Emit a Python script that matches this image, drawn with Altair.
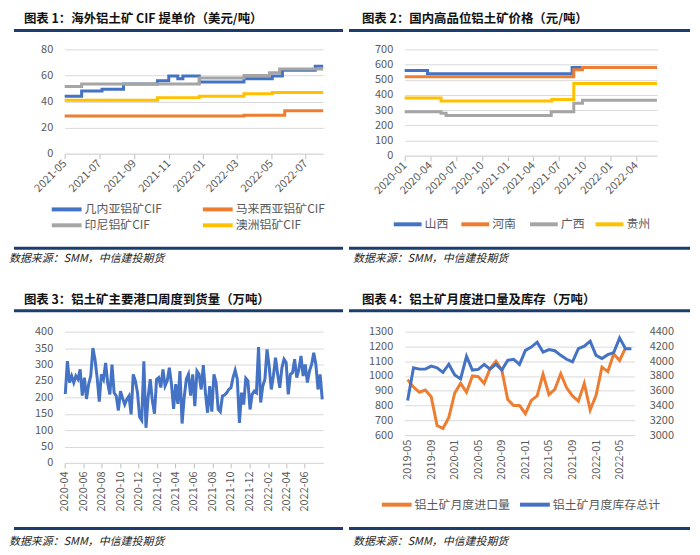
import altair as alt
import pandas as pd

FONT = "Noto Sans CJK SC"
NAVY = "#1C3D6E"
GRID = "#D9D9D9"
LABEL = "#595959"
BLUE, ORANGE, GRAY, YELLOW = "#4472C4", "#ED7D31", "#A5A5A5", "#FFC000"

TITLES = [
    "图表 1：海外铝土矿 CIF 提单价（美元/吨）",
    "图表 2：国内高品位铝土矿价格（元/吨）",
    "图表 3：铝土矿主要港口周度到货量（万吨）",
    "图表 4：铝土矿月度进口量及库存（万吨）",
]
SOURCE = "数据来源：SMM，中信建投期货"

# ---------------- Panel 1: overseas bauxite CIF (USD/t), step series
p1_names = ["几内亚铝矿CIF", "马来西亚铝矿CIF", "印尼铝矿CIF", "澳洲铝矿CIF"]
p1_colors = [BLUE, ORANGE, GRAY, YELLOW]
guinea_dates = ["2021-05-01", "2021-05-31", "2021-07-06", "2021-08-13", "2021-10-12", "2021-11-01",
                "2021-11-17", "2021-11-26", "2021-12-25", "2022-03-14", "2022-05-03", "2022-05-21",
                "2022-07-18", "2022-08-01"]
guinea_vals = [44, 48, 49.5, 53.5, 56, 59.5, 57.5, 59.5, 55, 57.5, 59.5, 64, 67, 67]
malaysia_dates = ["2021-05-01", "2022-03-14", "2022-05-25", "2022-08-01"]
malaysia_vals = [29, 29.5, 33, 33]
indonesia_dates = ["2021-05-01", "2021-05-31", "2021-12-25", "2022-03-14", "2022-04-28", "2022-05-16", "2022-08-01"]
indonesia_vals = [51.5, 53.5, 58, 60, 62, 65, 65]
australia_dates = ["2021-05-01", "2021-10-12", "2021-12-25", "2022-03-14", "2022-05-03", "2022-08-01"]
australia_vals = [41, 43, 44, 46, 47, 47]
p1_ticks = ["2021-05-01", "2021-07-01", "2021-09-01", "2021-11-01", "2022-01-01", "2022-03-01",
            "2022-05-01", "2022-07-01"]

# ---------------- Panel 2: domestic bauxite prices (CNY/t)
p2_names = ["山西", "河南", "广西", "贵州"]
p2_colors = [BLUE, ORANGE, GRAY, YELLOW]
shanxi_dates = ["2020-01-01", "2020-03-22", "2021-08-17", "2022-06-14"]
shanxi_vals = [560, 540, 580, 580]
henan_dates = ["2020-01-01", "2021-08-23", "2021-09-23", "2022-06-14"]
henan_vals = [520, 565, 580, 580]
guangxi_dates = ["2020-01-01", "2020-05-09", "2020-05-27", "2021-06-04", "2021-08-23", "2021-09-23", "2022-06-14"]
guangxi_vals = [290, 280, 265, 290, 345, 365, 365]
guizhou_dates = ["2020-01-01", "2020-05-09", "2021-06-06", "2021-08-23", "2022-06-14"]
guizhou_vals = [380, 360, 370, 475, 475]
p2_ticks = ["2020-01-01", "2020-04-01", "2020-07-01", "2020-10-01", "2021-01-01", "2021-04-01",
            "2021-07-01", "2021-10-01", "2022-01-01", "2022-04-01"]

# ---------------- Panel 3: weekly port arrivals (10kt), weekly from 2020-04-03
p3_start = "2020-04-03"
p3_vals = [210, 310, 245, 265, 245, 265, 255, 285, 205, 260, 195, 240, 265,
           350, 315, 260, 187, 270, 255, 305, 242, 209, 300, 214, 204, 160,
           219, 197, 178, 194, 204, 148, 270, 250, 215, 140, 130, 310, 107,
           200, 255, 190, 150, 255, 260, 230, 285, 235, 250, 290, 240, 165,
           240, 180, 280, 120, 200, 255, 270, 205,
           270, 173, 280, 270, 224, 298, 214, 153, 234, 156, 270, 245, 163,
           156, 204, 207, 214, 224, 229, 260, 282, 255, 122, 214, 178, 258,
           250, 163, 209, 219, 214, 353, 184, 234, 255, 346, 295, 224, 265,
           321, 270, 229, 290, 316, 306, 209, 270, 275, 316, 260, 285, 326,
           265, 300, 245, 280, 300, 336, 300, 224, 270, 194]
p3_ticks = ["2020-04-01", "2020-06-01", "2020-08-01", "2020-10-01", "2020-12-01", "2021-02-01",
            "2021-04-01", "2021-06-01", "2021-08-01", "2021-10-01", "2021-12-01", "2022-02-01",
            "2022-04-01", "2022-06-01"]

# ---------------- Panel 4: monthly imports (left) and inventory (right)
p4_names = ["铝土矿月度进口量", "铝土矿月度库存总计"]
p4_colors = [ORANGE, BLUE]
p4_months = [f"{y}-{m:02d}" for y in (2019, 2020, 2021, 2022) for m in range(1, 13)]
p4_months = p4_months[p4_months.index("2019-05"):p4_months.index("2022-07") + 1]
imports_vals = [975, 925, 890, 905, 860, 665, 645, 720, 885, 950, 890, 1000, 995, 950, 1050, 1100,
                1040, 840, 800, 800, 745, 835, 865, 1012, 875, 910, 1015, 920, 865, 830, 950, 770,
                870, 1060, 1030, 1150, 1105, 1190]
stock_vals = [3467, 3911, 3893, 3893, 3933, 3911, 3849, 3960, 3813, 3760, 4067, 3880, 3889, 3956,
              3893, 3960, 3880, 4013, 4027, 3956, 4147, 4191, 4258, 4124, 4158, 4142, 4080, 4027,
              3991, 4169, 4204, 4271, 4080, 4036, 4089, 4116, 4316, 4169, 4169]
p4_ticks = ["2019-05", "2019-09", "2020-01", "2020-05", "2020-09", "2021-01", "2021-05", "2021-09",
            "2022-01", "2022-05"]


def long_df(names, date_lists, val_lists):
    rows = []
    for n, ds, vs in zip(names, date_lists, val_lists):
        for d, v in zip(ds, vs):
            rows.append({"date": d + "T00:00:00", "value": v, "series": n})
    return pd.DataFrame(rows)


def dt(s):
    y, m, d = map(int, s.split("-"))
    return alt.DateTime(year=y, month=m, date=d)


def x_time_axis(values, angle):
    return alt.Axis(values=[dt(v) for v in values], format="%Y-%m", labelAngle=angle,
                    labelAlign="right", labelBaseline="middle", grid=False, domainColor=GRID,
                    ticks=True, tickColor="#BFBFBF", tickSize=5, labelColor=LABEL, labelFontSize=11,
                    labelPadding=3, labelOverlap=False, title=None)


def y_axis(values, orient="left", grid=True, pad=12):
    return alt.Axis(values=values, orient=orient, grid=grid, gridColor=GRID, domain=False, format="d",
                    ticks=False, labelColor=LABEL, labelFontSize=11, labelPadding=pad, title=None)


def one():
    return alt.Data(values=[{"k": 0}])


def text_layer(txt, x, y, size, weight="normal", style="normal", color="#000000"):
    return alt.Chart(one()).mark_text(text=txt, align="left", baseline="middle", font=FONT,
                                      fontSize=size, fontWeight=weight, fontStyle=style,
                                      color=color).encode(x=alt.value(x), y=alt.value(y))


def hrule(x1, x2, y, color=NAVY, width=3):
    return alt.Chart(one()).mark_rule(color=color, strokeWidth=width).encode(
        x=alt.value(x1), x2=alt.value(x2), y=alt.value(y))


def decorations(title, tx, ty, r1y, rx1, rx2, r2y, sx, sy):
    return [
        text_layer(title, tx, ty, 12.5, weight="bold", color="#111111"),
        hrule(rx1, rx2, r1y),
        hrule(rx1, rx2, r2y),
        text_layer(SOURCE, sx, sy, 11, style="italic", color="#222222"),
    ]


def key_layers(names, colors, spots, length=30):
    # spots: (x of symbol start, y centre) for each legend entry, panel-relative
    out = []
    for n, c, (sx, sy) in zip(names, colors, spots):
        out.append(hrule(sx, sx + length, sy, color=c, width=4))
        out.append(text_layer(n, sx + length + 3, sy, 12, color=LABEL))
    return out


# ---------------- Panel 1 chart
df1 = long_df(p1_names, [guinea_dates, malaysia_dates, indonesia_dates, australia_dates],
              [guinea_vals, malaysia_vals, indonesia_vals, australia_vals])
lines1 = alt.Chart(df1).mark_line(interpolate="step-after", strokeWidth=3).encode(
    x=alt.X("date:T", scale=alt.Scale(domain=[dt("2021-05-01"), dt("2022-08-01")]),
            axis=x_time_axis(p1_ticks, -45)),
    y=alt.Y("value:Q", scale=alt.Scale(domain=[0, 80]), axis=y_axis([0, 20, 40, 60, 80])),
    color=alt.Color("series:N", scale=alt.Scale(domain=p1_names, range=p1_colors), legend=None),
)
anchor = hrule(-56, 0, -39, color="#ffffff", width=1)
p1 = alt.layer(anchor, lines1,
               *key_layers(p1_names, p1_colors, [(-13, 161), (139, 161), (-13, 177), (139, 177)]),
               *decorations(TITLES[0], -41, -30, -19, -51, 280, 200, -56, 211)
               ).properties(width=260, height=105)

# ---------------- Panel 2 chart
df2 = long_df(p2_names, [shanxi_dates, henan_dates, guangxi_dates, guizhou_dates],
              [shanxi_vals, henan_vals, guangxi_vals, guizhou_vals])
lines2 = alt.Chart(df2).mark_line(interpolate="step-after", strokeWidth=3).encode(
    x=alt.X("date:T", scale=alt.Scale(domain=[dt("2020-01-01"), dt("2022-06-15")]),
            axis=x_time_axis(p2_ticks, -45)),
    y=alt.Y("value:Q", scale=alt.Scale(domain=[0, 700]), axis=y_axis(list(range(0, 701, 100)))),
    color=alt.Color("series:N", scale=alt.Scale(domain=p2_names, range=p2_colors), legend=None),
)
p2 = alt.layer(lines2,
               *key_layers(p2_names, p2_colors, [(-11, 176), (57, 176), (126, 176), (192, 176)], length=28),
               *decorations(TITLES[1], -43, -30, -19, -56, 287, 200, -52, 211)
               ).properties(width=254, height=107)

# ---------------- Panel 3 chart
p3_dates = pd.date_range(p3_start, periods=len(p3_vals), freq="7D").strftime("%Y-%m-%dT00:00:00")
df3 = pd.DataFrame({"date": p3_dates, "value": p3_vals})
line3 = alt.Chart(df3).mark_line(strokeWidth=3, color=BLUE).encode(
    x=alt.X("date:T", scale=alt.Scale(domain=[dt("2020-04-01"), dt("2022-08-01")]),
            axis=x_time_axis(p3_ticks, -90)),
    y=alt.Y("value:Q", scale=alt.Scale(domain=[0, 400]), axis=y_axis(list(range(0, 401, 50)))),
)
p3 = alt.layer(line3, *decorations(TITLES[2], -41, -32, -21, -51, 280, 198, -56, 212)
               ).properties(width=260, height=132)

# ---------------- Panel 4 chart
df4a = pd.DataFrame({"month": p4_months[:len(imports_vals)], "value": imports_vals, "series": p4_names[0]})
df4b = pd.DataFrame({"month": p4_months[:len(stock_vals)], "value": stock_vals, "series": p4_names[1]})
x4 = alt.X("month:O", scale=alt.Scale(domain=p4_months),
           axis=alt.Axis(values=p4_ticks, labelAngle=-90, labelAlign="right", labelBaseline="middle",
                         grid=False, domainColor=GRID, ticks=False, labelColor=LABEL, labelFontSize=11,
                         labelPadding=4, title=None))
col4 = alt.Color("series:N", scale=alt.Scale(domain=p4_names, range=p4_colors), legend=None)
imp = alt.Chart(df4a).mark_line(strokeWidth=3).encode(
    x=x4,
    y=alt.Y("value:Q", scale=alt.Scale(domain=[600, 1300]), axis=y_axis(list(range(600, 1301, 100)))),
    color=col4,
)
stk = alt.Chart(df4b).mark_line(strokeWidth=3).encode(
    x=x4,
    y=alt.Y("value:Q", scale=alt.Scale(domain=[3000, 4400]),
            axis=y_axis(list(range(3000, 4401, 200)), orient="right", grid=False, pad=15)),
    color=col4,
)
p4 = alt.layer(imp, stk,
               *key_layers(p4_names, p4_colors, [(-23, 174), (116, 174)]),
               *decorations(TITLES[3], -43, -32, -21, -56, 287, 198, -52, 212)
               ).resolve_scale(y="independent").properties(width=231, height=104)

chart = alt.concat(
    p1, p2, p3, p4, columns=2,
    spacing=alt.RowColnumber(row=177, column=82),
    bounds="flush",
).resolve_scale(color="independent").properties(padding=0).configure(font=FONT).configure_view(stroke=None)

chart.save("out.html", embed_options={"renderer": "svg", "actions": False})
